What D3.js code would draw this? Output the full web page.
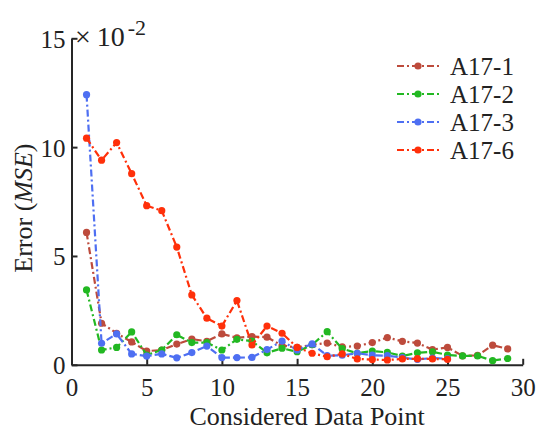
<!DOCTYPE html>
<html>
<head>
<meta charset="utf-8">
<script src="https://cdn.jsdelivr.net/npm/d3@7"></script>
<style>
  html, body { margin: 0; padding: 0; background: #fff; }
  svg { display: block; font-family: "Liberation Serif", "Times New Roman", serif; }
</style>
</head>
<body>
<svg id="chart" width="539" height="435"></svg>
<script>
// Error values are in units of 1e-2
const seriesNames = ["A17-1", "A17-2", "A17-3", "A17-6"];
const seriesColors = ["#bd4b3c", "#22b822", "#4e6ff2", "#ff300a"];

const errA17_1 = [6.08, 1.91, 1.45, 1.05, 0.63, 0.68, 0.95, 1.18, 1.08, 1.42, 1.24, 1.30, 1.27, 0.88, 0.80,
                  0.92, 1.00, 0.82, 0.86, 1.02, 1.25, 1.08, 1.00, 0.70, 0.80, 0.41, 0.43, 0.90, 0.73];
const errA17_2 = [3.44, 0.68, 0.80, 1.51, 0.45, 0.68, 1.38, 1.02, 1.02, 0.68, 1.17, 1.09, 0.55, 0.76, 0.60,
                  0.92, 1.52, 0.74, 0.53, 0.63, 0.57, 0.40, 0.55, 0.60, 0.45, 0.41, 0.41, 0.19, 0.29];
const errA17_3 = [12.41, 0.99, 1.42, 0.50, 0.40, 0.50, 0.32, 0.56, 0.86, 0.33, 0.33, 0.34, 0.70, 1.09, 0.68,
                  0.96, 0.42, 0.44, 0.53, 0.44, 0.42, 0.33, 0.25, 0.31, 0.28];
const errA17_6 = [10.41, 9.40, 10.21, 8.78, 7.31, 7.08, 5.41, 3.21, 2.14, 1.78, 2.95, 0.91, 1.78, 1.45, 0.80,
                  0.53, 0.37, 0.50, 0.27, 0.24, 0.22, 0.27, 0.28, 0.27, 0.25];

const xTicks = [0, 5, 10, 15, 20, 25, 30];
const yTicks = [0, 5, 10, 15];

const seriesValues = [errA17_1, errA17_2, errA17_3, errA17_6];
const series = seriesNames.map((name, i) => ({
  name,
  color: seriesColors[i],
  points: seriesValues[i].map((v, j) => ({ x: j + 1, y: v }))
}));

const svg = d3.select("#chart");
const axisColor = "#262626";

const x = d3.scaleLinear().domain([0, 30]).range([71.5, 522.7]);
const y = d3.scaleLinear().domain([0, 15]).range([364.8, 38.3]);

// Axes: ticks point inward, box off
const xAxis = svg.append("g")
  .attr("transform", `translate(0,${y(0)})`)
  .call(d3.axisBottom(x).tickValues(xTicks).tickSizeInner(-6).tickSizeOuter(0).tickPadding(13));
const yAxis = svg.append("g")
  .attr("transform", `translate(${x(0)},0)`)
  .call(d3.axisLeft(y).tickValues(yTicks).tickSizeInner(-6).tickSizeOuter(0).tickPadding(6));

[xAxis, yAxis].forEach(g => {
  g.select(".domain").attr("stroke", axisColor).attr("stroke-width", 2);
  g.selectAll(".tick line").attr("stroke", axisColor).attr("stroke-width", 2);
  g.selectAll(".tick text")
    .attr("fill", "#222")
    .style("font-size", "25px")
    .style("font-family", "'Liberation Serif', serif");
});
yAxis.selectAll(".tick text").attr("dy", "0.36em");

// Exponent label
const expLabel = svg.append("text")
  .attr("x", 75).attr("y", 46)
  .attr("fill", "#222")
  .style("font-size", "28px");
expLabel.append("tspan").text("\u00d7");
expLabel.append("tspan").attr("dx", 6).text("10");
expLabel.append("tspan").attr("dx", 3).attr("dy", -11).style("font-size", "22px").text("-2");

// Axis titles
svg.append("text")
  .attr("x", x(15) + 10).attr("y", 425)
  .attr("text-anchor", "middle")
  .attr("fill", "#222")
  .style("font-size", "26px")
  .text("Considered Data Point");

const yTitle = svg.append("text")
  .attr("transform", `translate(32,${y(7.2)}) rotate(-90)`)
  .attr("text-anchor", "middle")
  .attr("fill", "#222")
  .style("font-size", "26px");
yTitle.append("tspan").text("Error (");
yTitle.append("tspan").style("font-style", "italic").text("MSE");
yTitle.append("tspan").text(")");

// Lines and markers
const line = d3.line().x(d => x(d.x)).y(d => y(d.y));
const dash = "7,3,2,3";

const gSeries = svg.append("g").selectAll("g").data(series).join("g");
gSeries.append("path")
  .attr("d", d => line(d.points))
  .attr("fill", "none")
  .attr("stroke", d => d.color)
  .attr("stroke-width", 2.2)
  .attr("stroke-dasharray", dash);
gSeries.selectAll("circle")
  .data(d => d.points.map(p => ({ ...p, color: d.color })))
  .join("circle")
  .attr("cx", d => x(d.x))
  .attr("cy", d => y(d.y))
  .attr("r", 3.6)
  .attr("fill", d => d.color);

// Legend
const legend = svg.append("g").selectAll("g").data(series).join("g")
  .attr("transform", (d, i) => `translate(397,${66 + i * 28})`);
legend.append("line")
  .attr("x1", 0).attr("x2", 42).attr("y1", 0).attr("y2", 0)
  .attr("stroke", d => d.color)
  .attr("stroke-width", 2.2)
  .attr("stroke-dasharray", dash);
legend.append("circle")
  .attr("cx", 21).attr("cy", 0).attr("r", 3.6)
  .attr("fill", d => d.color);
legend.append("text")
  .attr("x", 53).attr("y", 0).attr("dy", "0.35em")
  .attr("fill", "#222")
  .style("font-size", "25px")
  .text(d => d.name);
</script>
</body>
</html>
